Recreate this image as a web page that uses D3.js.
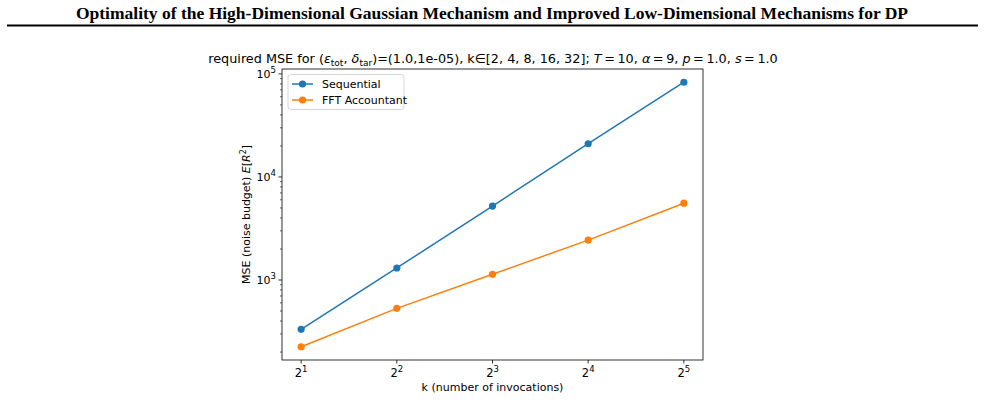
<!DOCTYPE html>
<html>
<head>
<meta charset="utf-8">
<script src="https://cdn.jsdelivr.net/npm/d3@7"></script>
<style>
  body { margin: 0; background: #fff; }
  svg text { font-family: "DejaVu Sans", sans-serif; }
</style>
</head>
<body>
<svg id="chart" width="985" height="417"></svg>
<script>
// data
const ks = [2, 4, 8, 16, 32];
const sequential = [332, 1308, 5220, 21000, 83000];
const fftAccountant = [225, 531, 1136, 2440, 5560];
const seriesNames = ["Sequential", "FFT Accountant"];
const seriesColors = ["#1f77b4", "#ff7f0e"];
const xTickExps = [1, 2, 3, 4, 5];
const yTickExps = [3, 4, 5];

const svg = d3.select("#chart");

// page header
svg.append("text")
  .attr("x", 492).attr("y", 19)
  .attr("text-anchor", "middle")
  .style("font-family", "'Liberation Serif', 'Times New Roman', serif")
  .style("font-weight", "bold")
  .style("font-size", "17.5px")
  .text("Optimality of the High-Dimensional Gaussian Mechanism and Improved Low-Dimensional Mechanisms for DP");

svg.append("line")
  .attr("x1", 7).attr("x2", 978)
  .attr("y1", 25.5).attr("y2", 25.5)
  .attr("stroke", "#000").attr("stroke-width", 2);

// plot area
const plotL = 282, plotR = 703, plotT = 69, plotB = 360;

const x = d3.scaleLog().base(2)
  .domain([Math.pow(2, 0.8), Math.pow(2, 5.2)])
  .range([plotL, plotR]);

const logMin = Math.log10(d3.min(fftAccountant)), logMax = Math.log10(d3.max(sequential));
const pad = (logMax - logMin) * 0.05;
const y = d3.scaleLog()
  .domain([Math.pow(10, logMin - pad), Math.pow(10, logMax + pad)])
  .range([plotB, plotT]);

// chart title with math-like subscripts / italics
const title = svg.append("text")
  .attr("x", 493).attr("y", 63)
  .attr("text-anchor", "middle")
  .style("font-size", "12.8px")
  .attr("fill", "#000");
title.append("tspan").text("required MSE for (");
title.append("tspan").style("font-style", "italic").text("ε");
title.append("tspan").attr("dy", 3).style("font-size", "9px").text("tot");
title.append("tspan").attr("dy", -3).text(", ");
title.append("tspan").style("font-style", "italic").text("δ");
title.append("tspan").attr("dy", 3).style("font-size", "9px").text("tar");
title.append("tspan").attr("dy", -3).text(")=(1.0,1e-05), k∈[2, 4, 8, 16, 32]; ");
title.append("tspan").style("font-style", "italic").text("T");
title.append("tspan").text("\u2009=\u200910, ");
title.append("tspan").style("font-style", "italic").text("α");
title.append("tspan").text("\u2009=\u20099, ");
title.append("tspan").style("font-style", "italic").text("p");
title.append("tspan").text("\u2009=\u20091.0, ");
title.append("tspan").style("font-style", "italic").text("s");
title.append("tspan").text("\u2009=\u20091.0");

// y minor ticks
const g = svg.append("g");
const [y0, y1] = y.domain();
const minor = [];
for (let e = Math.floor(Math.log10(y0)); e <= Math.ceil(Math.log10(y1)); e++) {
  for (let m = 2; m <= 9; m++) {
    const v = m * Math.pow(10, e);
    if (v >= y0 && v <= y1) minor.push(v);
  }
}
g.selectAll("line.yminor").data(minor).join("line")
  .attr("class", "yminor")
  .attr("x1", plotL - 2).attr("x2", plotL)
  .attr("y1", d => y(d)).attr("y2", d => y(d))
  .attr("stroke", "#000").attr("stroke-width", 0.6);

// y major ticks
const yMajor = yTickExps.map(e => Math.pow(10, e));
g.selectAll("line.ymajor").data(yMajor).join("line")
  .attr("class", "ymajor")
  .attr("x1", plotL - 3.5).attr("x2", plotL)
  .attr("y1", d => y(d)).attr("y2", d => y(d))
  .attr("stroke", "#000").attr("stroke-width", 0.8);
yTickExps.forEach(e => {
  const t = g.append("text")
    .attr("x", plotL - 6).attr("y", y(Math.pow(10, e)) + 4)
    .attr("text-anchor", "end")
    .style("font-size", "11px");
  t.append("tspan").text("10");
  t.append("tspan").attr("dy", -5).style("font-size", "8.5px").text(e);
});

// x ticks
xTickExps.forEach(e => {
  const xv = x(Math.pow(2, e));
  g.append("line")
    .attr("x1", xv).attr("x2", xv)
    .attr("y1", plotB).attr("y2", plotB + 3.5)
    .attr("stroke", "#000").attr("stroke-width", 0.8);
  const t = g.append("text")
    .attr("x", xv).attr("y", plotB + 17)
    .attr("text-anchor", "middle")
    .style("font-size", "11.5px");
  t.append("tspan").text("2");
  t.append("tspan").attr("dy", -5).style("font-size", "8.5px").text(e);
});

// axis labels
svg.append("text")
  .attr("x", (plotL + plotR) / 2).attr("y", 391)
  .attr("text-anchor", "middle")
  .style("font-size", "11px")
  .text("k (number of invocations)");

const yl = svg.append("text")
  .attr("transform", `translate(250,${(plotT + plotB) / 2}) rotate(-90)`)
  .attr("text-anchor", "middle")
  .style("font-size", "11px");
yl.append("tspan").text("MSE (noise budget) ");
yl.append("tspan").style("font-style", "italic").text("E");
yl.append("tspan").text("[");
yl.append("tspan").style("font-style", "italic").text("R");
yl.append("tspan").attr("dy", -4).style("font-size", "8px").text("2");
yl.append("tspan").attr("dy", 4).text("]");

// series
const series = [sequential, fftAccountant];
const line = d3.line().x((d, i) => x(ks[i])).y(d => y(d));
series.forEach((vals, si) => {
  svg.append("path")
    .attr("d", line(vals))
    .attr("fill", "none")
    .attr("stroke", seriesColors[si])
    .attr("stroke-width", 1.5);
  svg.selectAll(null).data(vals).join("circle")
    .attr("cx", (d, i) => x(ks[i]))
    .attr("cy", d => y(d))
    .attr("r", 3.6)
    .attr("fill", seriesColors[si]);
});

// frame
svg.append("rect")
  .attr("x", plotL).attr("y", plotT)
  .attr("width", plotR - plotL).attr("height", plotB - plotT)
  .attr("fill", "none").attr("stroke", "#000").attr("stroke-width", 0.8);

// legend
const lg = svg.append("g");
lg.append("rect")
  .attr("x", 288).attr("y", 74.5)
  .attr("width", 116).attr("height", 35)
  .attr("rx", 2.5)
  .attr("fill", "#fff").attr("fill-opacity", 0.8)
  .attr("stroke", "#ccc").attr("stroke-width", 0.8);
seriesNames.forEach((name, i) => {
  const ly = 84 + i * 16;
  lg.append("line")
    .attr("x1", 292).attr("x2", 313)
    .attr("y1", ly).attr("y2", ly)
    .attr("stroke", seriesColors[i]).attr("stroke-width", 1.5);
  lg.append("circle")
    .attr("cx", 302.5).attr("cy", ly).attr("r", 3.6)
    .attr("fill", seriesColors[i]);
  lg.append("text")
    .attr("x", 322).attr("y", ly + 4)
    .style("font-size", "11px")
    .text(name);
});
</script>
</body>
</html>
